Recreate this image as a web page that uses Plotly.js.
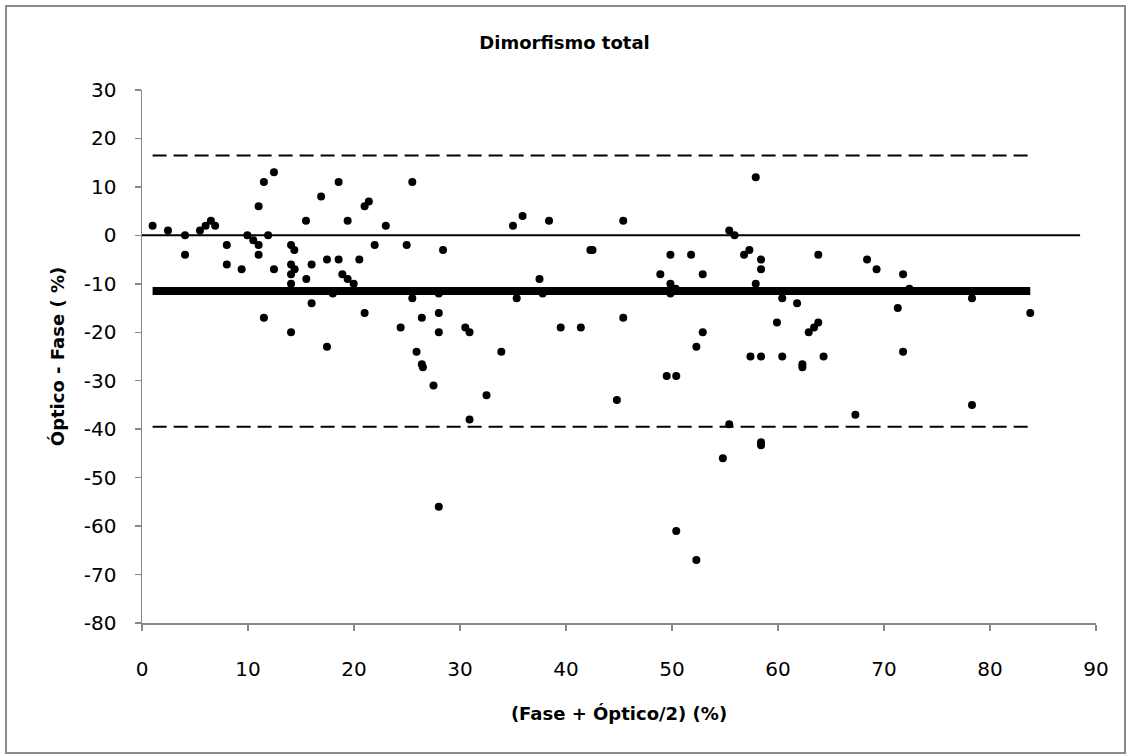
<!DOCTYPE html>
<html>
<head>
<meta charset="utf-8">
<script src="https://cdn.plot.ly/plotly-3.0.1.min.js"></script>
<style>
html,body{margin:0;padding:0;background:#fff;}
#wrap{position:relative;width:1129px;height:756px;}
#chart{width:1129px;height:756px;}
#frame{position:absolute;left:5px;top:5px;width:1117px;height:745px;border:2px solid #8a8a8a;pointer-events:none;}
</style>
</head>
<body>
<div id="wrap"><div id="chart"></div><div id="frame"></div></div>
<script>
// Mean of (Fase + Óptico)/2 on x, difference Óptico - Fase on y
const xMean = [1.0,2.45,4.06,4.06,5.47,6.0,6.5,6.9,8.0,8.0,9.4,9.94,10.5,11.0,11.0,11.0,11.5,11.9,12.45,12.45,
  14.06,14.37,14.06,14.4,14.06,15.47,15.5,16.0,16.9,17.45,18.55,18.55,18.9,19.4,19.4,20.5,21.0,21.4,21.95,23.0,
  14.06,19.97,16.0,18.0,21.0,11.5,14.06,17.45,25.5,35.0,35.9,38.4,45.4,24.97,28.4,42.3,42.5,37.5,28.0,37.8,
  25.5,35.35,28.0,26.4,45.4,24.4,30.5,30.9,28.0,39.5,41.4,25.9,26.4,26.5,33.9,27.5,32.5,44.8,30.9,28.0,
  57.9,55.4,55.9,57.3,56.8,58.4,58.4,49.85,51.8,63.8,68.4,48.9,52.9,49.85,50.35,49.85,57.9,60.4,61.8,52.9,
  59.9,63.8,63.4,62.9,52.3,49.5,50.4,57.4,58.4,60.4,64.3,62.3,62.3,67.3,55.4,58.4,58.4,54.8,50.4,52.3,
  69.3,71.8,72.4,71.3,71.8,78.3,83.8,78.3];
const yDiff = [2,1,0,-4,1,2,3,2,-2,-6,-7,0,-1,-2,6,-4,11,0,13,-7,
  -2,-3,-6,-7,-8,3,-9,-6,8,-5,-5,11,-8,-9,3,-5,6,7,-2,2,
  -10,-10,-14,-12,-16,-17,-20,-23,11,2,4,3,3,-2,-3,-3,-3,-9,-12,-12,
  -13,-13,-16,-17,-17,-19,-19,-20,-20,-19,-19,-24,-26.6,-27.2,-24,-31,-33,-34,-38,-56,
  12,1,0,-3,-4,-5,-7,-4,-4,-4,-5,-8,-8,-10,-11,-12,-10,-13,-14,-20,
  -18,-18,-19,-20,-23,-29,-29,-25,-25,-25,-25,-26.6,-27.2,-37,-39,-42.7,-43.3,-46,-61,-67,
  -7,-8,-11,-15,-24,-13,-16,-35];
const meanDiff = -11.5;
const upperLimit = 16.5;
const lowerLimit = -39.5;
const zeroLineX = [0, 88.5];
const xTicks = [0,10,20,30,40,50,60,70,80,90];
const yTicks = [30,20,10,0,-10,-20,-30,-40,-50,-60,-70,-80];

const xMin = Math.min(...xMean), xMax = Math.max(...xMean);

const traces = [
  {x: zeroLineX, y: [0,0], mode:'lines', line:{color:'#000', width:2}, hoverinfo:'skip'},
  {x: xMean, y: yDiff, mode:'markers', marker:{color:'#000', size:8}},
  {x: [xMin,xMax], y: [meanDiff,meanDiff], mode:'lines', line:{color:'#000', width:8}, hoverinfo:'skip'},
  {x: [xMin,xMax], y: [upperLimit,upperLimit], mode:'lines', line:{color:'#000', width:2, dash:'14px,7px'}, hoverinfo:'skip'},
  {x: [xMin,xMax], y: [lowerLimit,lowerLimit], mode:'lines', line:{color:'#000', width:2, dash:'14px,7px'}, hoverinfo:'skip'}
];

const axisCommon = {
  showline:true, linecolor:'#898989', linewidth:1.5,
  ticks:'outside', ticklen:6, tickcolor:'#898989', tickwidth:1.5,
  showgrid:false, zeroline:false, automargin:false,
  tickfont:{family:'DejaVu Sans', size:20, color:'#000'}
};

const layout = {
  width:1129, height:756,
  margin:{l:142, r:33, t:90, b:133},
  paper_bgcolor:'#fff', plot_bgcolor:'#fff',
  showlegend:false,
  title:{text:'<b>Dimorfismo total</b>', font:{family:'DejaVu Sans', size:18, color:'#000'},
    x:0.5, xref:'container', xanchor:'center', y:1-43/756, yref:'container', yanchor:'middle'},
  xaxis: Object.assign({}, axisCommon, {
    range:[0,90], tickvals:xTicks, ticktext:xTicks.map(String), ticklabelstandoff:21,
    title:{text:'<b>(Fase + Óptico/2) (%)</b>', font:{family:'DejaVu Sans', size:18, color:'#000'}, standoff:28}
  }),
  yaxis: Object.assign({}, axisCommon, {
    range:[-80,30], tickvals:yTicks, ticktext:yTicks.map(String), ticklabelstandoff:14,
    title:{text:'<b>Óptico - Fase ( %)</b>', font:{family:'DejaVu Sans', size:18, color:'#000'}, standoff:14}
  })
};

Plotly.newPlot('chart', traces, layout, {displayModeBar:false, staticPlot:true});
</script>
</body>
</html>
